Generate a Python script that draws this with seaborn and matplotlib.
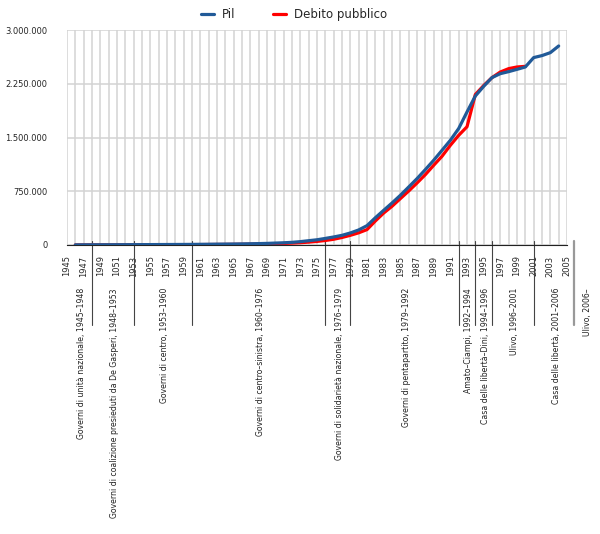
import numpy as np
import pandas as pd
import seaborn as sns
import matplotlib.pyplot as plt
import matplotlib.transforms as mtransforms
from matplotlib.ticker import FuncFormatter
from matplotlib.lines import Line2D

years_pil = list(range(1946, 2005))
pil = [2000, 2500, 3000, 3300, 3600, 4000, 4400, 4800, 5200, 5700,
       6200, 6700, 7200, 7800, 8500, 9500, 10500, 12000, 13000, 14000,
       15500, 17500, 19500, 22500, 27000, 31000, 37000, 47000, 60000, 73000,
       92000, 112000, 135000, 168000, 210000, 270000, 380000, 484000, 586000, 693000,
       809000, 926000, 1052000, 1182000, 1321000, 1461000, 1625000, 1856000, 2079000, 2214000,
       2336000, 2391000, 2419000, 2451000, 2484000, 2615000, 2643000, 2684000, 2777000]

years_debito = list(range(1946, 2001))
debito = [800, 1000, 1300, 1600, 1900, 2200, 2500, 2800, 3100, 3400,
          3800, 4200, 4600, 5000, 5500, 6000, 6600, 7300, 8100, 9000,
          10000, 11200, 12800, 15000, 17500, 21000, 26000, 32000, 40000, 50000,
          63000, 80000, 105000, 135000, 170000, 215000, 335000, 446000, 540000, 647000,
          753000, 865000, 982000, 1112000, 1238000, 1391000, 1530000, 1650000, 2100000, 2225000,
          2336000, 2414000, 2461000, 2484000, 2493000]

all_years = list(range(1945, 2006))
year_labels = ['1945', '1947', '1949', '1051', '1953', '1955', '1957', '1959', '1961', '1963',
               '1965', '1967', '1969', '1971', '1973', '1975', '1977', '1979', '1981', '1983',
               '1985', '1987', '1989', '1991', '1993', '1995', '1997', '1999', '2001', '2003', '2005']

period_bounds = [1945, 1948, 1953, 1960, 1976, 1979, 1992, 1994, 1996, 2001, 2006]
period_names = ['Governi di unità nazionale, 1945–1948',
                'Governi di coalizione presieduti da De Gasperi, 1948–1953',
                'Governi di centro, 1953–1960',
                'Governi di centro–sinistra, 1960–1976',
                'Governi di solidarietà nazionale, 1976–1979',
                'Governi di pentapartito, 1979–1992',
                'Amato–Ciampi, 1992–1994',
                'Casa delle libertà–Dini, 1994–1996',
                'Ulivo, 1996–2001',
                'Casa delle libertà, 2001–2006',
                'Ulivo, 2006–']

df_pil = pd.DataFrame({'anno': years_pil, 'valore': pil})
df_deb = pd.DataFrame({'anno': years_debito, 'valore': debito})

blue = '#215a98'
red = '#ff0000'

sns.set_style('white')
plt.rcParams['font.family'] = ['DejaVu Sans']

fig = plt.figure(figsize=(6, 5.34), dpi=100)
ax = fig.add_axes([67 / 600, 1 - 245 / 534, 500 / 600, 215 / 534])

sns.lineplot(data=df_deb, x='anno', y='valore', color=red, linewidth=2.3, ax=ax, zorder=3)
sns.lineplot(data=df_pil, x='anno', y='valore', color=blue, linewidth=2.3, ax=ax, zorder=4)

ax.set_xlim(1945, 2005)
ax.set_ylim(0, 3000000)
ax.set_xlabel('')
ax.set_ylabel('')

# x ticks: one per year, labels every other year
ax.set_xticks(all_years)
lab = []
k = 0
for i, y in enumerate(all_years):
    if i % 2 == 0:
        lab.append(year_labels[k])
        k += 1
    else:
        lab.append('')
ax.set_xticklabels(lab, rotation=90, fontsize=6)
ax.tick_params(axis='x', direction='out', length=2.5, width=0.7, color='#222222', pad=5)

ax.set_yticks([0, 750000, 1500000, 2250000, 3000000])
ax.yaxis.set_major_formatter(FuncFormatter(lambda v, p: f'{int(v):,}'.replace(',', '.')))
ax.tick_params(axis='y', length=0, labelsize=6, pad=14)

ax.grid(True, axis='both', color='#d3d3d3', linewidth=1.1)
ax.set_axisbelow(True)
for s in ['top', 'right', 'left']:
    ax.spines[s].set_visible(False)
ax.spines['bottom'].set_color('#222222')
ax.spines['bottom'].set_linewidth(0.8)

# government periods below the axis
trans = mtransforms.blended_transform_factory(ax.transData, ax.transAxes)
for b in period_bounds[1:-1]:
    ax.plot([b, b], [0.02, -0.372], transform=trans, color='#444444', lw=0.8, clip_on=False)
ax.plot([period_bounds[-1] - 0.2, period_bounds[-1] - 0.2], [0.02, -0.372], transform=trans,
        color='#999999', lw=1.6, clip_on=False)

mids = [(period_bounds[i] + period_bounds[i + 1]) / 2 for i in range(len(period_bounds) - 1)]
mids.append(period_bounds[-1] + 1.3)
for name, m in zip(period_names, mids):
    ax.text(m + 0.2, -0.2, name, transform=trans, rotation=90, ha='center', va='top',
            fontsize=5.6, color='#222222')

handles = [Line2D([0], [0], color=blue, lw=2.3), Line2D([0], [0], color=red, lw=2.3)]
fig.legend(handles, ['Pil', 'Debito pubblico'], loc='center', bbox_to_anchor=(0.49, 0.972),
           ncol=2, frameon=False, fontsize=8.5, handlelength=1.1, handletextpad=0.7,
           columnspacing=3.2)

plt.savefig('out.png', dpi=100)
